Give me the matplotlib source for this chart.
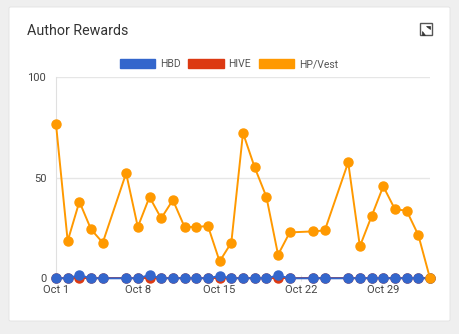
import numpy as np
import matplotlib
matplotlib.use("Agg")
import matplotlib.pyplot as plt
import matplotlib.dates as mdates
from matplotlib.patches import FancyBboxPatch, Rectangle, Patch, Polygon

plt.rcParams['font.family'] = ['Roboto', 'DejaVu Sans']

# data
dates = ["10-01", "10-02", "10-03", "10-04", "10-05", "10-07", "10-08", "10-09",
         "10-10", "10-11", "10-12", "10-13", "10-14", "10-15", "10-16", "10-17",
         "10-18", "10-19", "10-20", "10-21", "10-23", "10-24", "10-26", "10-27",
         "10-28", "10-29", "10-30", "10-31", "11-01", "11-02"]
hbd = [0, 0, 1.6, 0, 0, 0, 0, 1.6, 0, 0, 0, 0, 0, 1.2, 0, 0, 0, 0, 1.5, 0,
       0, 0, 0, 0, 0, 0, 0, 0, 0, 0]
hive = [0] * len(dates)
hp_vest = [76.6, 18.5, 38.1, 24.3, 17.7, 52.2, 25.5, 40.4, 29.8, 38.9, 25.5,
           25.5, 26.0, 8.4, 17.7, 72.2, 55.1, 40.5, 11.7, 22.8, 23.3, 23.8,
           57.6, 15.9, 30.8, 45.7, 34.3, 33.6, 21.5, 0]
series_names = ["HBD", "HIVE", "HP/Vest"]
series_colors = ["#3366cc", "#dc3912", "#ff9900"]
tick_days = ["10-01", "10-08", "10-15", "10-22", "10-29"]
y_ticks = [0, 50, 100]

x = np.array(["2023-" + d for d in dates], dtype="datetime64[D]")
xt = np.array(["2023-" + d for d in tick_days], dtype="datetime64[D]")

fig = plt.figure(figsize=(4.6, 3.34), dpi=100)
fig.patch.set_facecolor("#efefef")


def fx(px):
    return px / 460


def fy(py):
    return 1 - py / 334


# white card
card = FancyBboxPatch((fx(9), fy(321)), 441 / 460, 314 / 334,
                      boxstyle="round,pad=0,rounding_size=0.004",
                      transform=fig.transFigure, facecolor="white",
                      edgecolor="#e2e2e2", linewidth=0.6, zorder=-5)
fig.patches.append(card)

fig.text(fx(27), fy(31), "Author Rewards", fontsize=10.3,
         color="#333333", va="center", ha="left")

# expand icon
fig.patches.append(Rectangle((fx(420), fy(35)), 12 / 460, 12 / 334,
                             transform=fig.transFigure, fill=False,
                             edgecolor="#555555", linewidth=1.0))
fig.patches.append(Polygon([(fx(426.5), fy(25.5)), (fx(430), fy(25.5)), (fx(430), fy(29))],
                           closed=True, transform=fig.transFigure,
                           facecolor="#333333", edgecolor="#333333", lw=0.5))
fig.patches.append(Polygon([(fx(422), fy(31)), (fx(422), fy(34.5)), (fx(425.5), fy(34.5))],
                           closed=True, transform=fig.transFigure,
                           facecolor="#333333", edgecolor="#333333", lw=0.5))

ax = fig.add_axes([fx(56), fy(278.3), 374 / 460, 201.3 / 334])
ax.set_zorder(2)
ax.set_facecolor("none")

ax.plot(x, hive, color=series_colors[1], lw=1.4, marker="o", ms=6.5,
        clip_on=False, zorder=3)
ax.plot(x, hbd, color=series_colors[0], lw=1.4, marker="o", ms=6.5,
        clip_on=False, zorder=4)
ax.plot(x, hp_vest, color=series_colors[2], lw=1.4, marker="o", ms=6.5,
        clip_on=False, zorder=5)

ax.set_xlim(np.datetime64("2023-10-01"), np.datetime64("2023-11-02"))
ax.set_ylim(0, 100)
ax.set_yticks(y_ticks)
ax.set_xticks(xt)
ax.xaxis.set_major_formatter(mdates.DateFormatter("%b %-d"))
ax.grid(axis="y", color="#e6e6e6", lw=1)
ax.set_axisbelow(True)
for s in ["top", "right"]:
    ax.spines[s].set_visible(False)
ax.spines["left"].set_color("#e0e0e0")
ax.spines["bottom"].set_color("#cccccc")
ax.tick_params(axis="y", length=0, pad=7, labelsize=8, labelcolor="#444444")
ax.tick_params(axis="x", length=5, direction="inout", color="#e6e6e6",
               pad=2, labelsize=8, labelcolor="#444444")

handles = [Patch(facecolor=c, edgecolor=c) for c in series_colors]
leg = fig.legend(handles, series_names, loc="center", bbox_to_anchor=(fx(229), fy(64)),
                 ncol=3, frameon=False, fontsize=7.5, labelcolor="#555555",
                 handlelength=3.4, handleheight=1.05, handletextpad=0.45,
                 columnspacing=0.75)
leg.set_zorder(3)

fig.savefig("out.png", dpi=100, facecolor=fig.get_facecolor())
